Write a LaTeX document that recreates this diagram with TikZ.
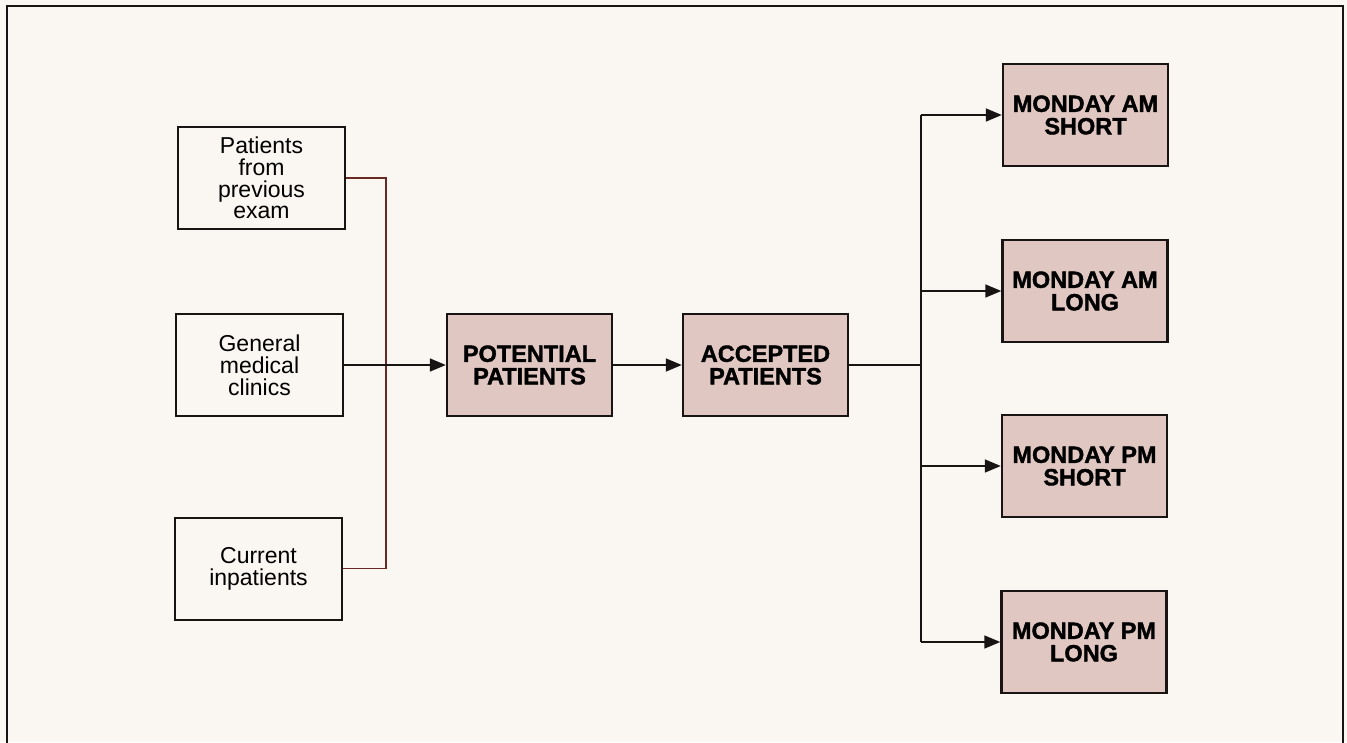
\documentclass[tikz,border=0pt]{standalone}
\usepackage{fontspec}
\setmainfont{Liberation Sans}
\newfontfamily\heavyfont[FakeBold=1.6]{Liberation Sans Bold}
\usetikzlibrary{arrows.meta}
\definecolor{paper}{RGB}{250,246,241}
\definecolor{stip}{RGB}{224,199,194}
\definecolor{brownline}{RGB}{105,40,35}
\definecolor{ink}{RGB}{25,20,20}
\tikzset{
  srcbox/.style={draw=ink, line width=2pt, fill=paper, minimum width=167pt, minimum height=102pt, inner sep=0pt, align=center, font=\fontsize{23}{21.8}\selectfont},
  stagebox/.style={draw=ink, line width=2.4pt, fill=stip, minimum width=165pt, minimum height=102pt, inner sep=0pt, align=center, font=\fontsize{23.5}{22.5}\heavyfont},
  feed/.style={draw=brownline, line width=1.3pt},
  conn/.style={draw=ink, line width=1.6pt},
  arr/.style={conn, -{Triangle[length=16pt,width=13pt]}},
  frame/.style={draw=ink, line width=2pt}
}
\begin{document}
\begin{tikzpicture}[x=1pt,y=-1pt]
\fill[paper] (0,0) rectangle (1347,742);
\useasboundingbox (0,0) rectangle (1347,742);
\draw[frame] (7,745) -- (7,6) -- (1343,6) -- (1343,745);

\node[srcbox] (b1) at (261.5,178) {Patients\\from\\previous\\exam};
\node[srcbox] (b2) at (259.5,365) {General\\medical\\clinics};
\node[srcbox] (b3) at (258.5,568.5) {Current\\inpatients};

\node[stagebox] (pot) at (529.5,365) {POTENTIAL\\PATIENTS};
\node[stagebox] (acc) at (765.5,365) {ACCEPTED\\PATIENTS};

\node[stagebox] (amS) at (1085.5,115) {MONDAY AM\\SHORT};
\node[stagebox] (amL) at (1085,291) {MONDAY AM\\LONG};
\node[stagebox] (pmS) at (1084.5,466) {MONDAY PM\\SHORT};
\node[stagebox] (pmL) at (1084,642) {MONDAY PM\\LONG};

\coordinate (jx) at (386,0);
\coordinate (kx) at (921,0);

\draw[feed] (b1.east) -| (jx |- b3.east) -- (b3.east);
\draw[arr] (b2.east) -- (pot.west);
\draw[arr] (pot.east) -- (acc.west);
\draw[conn] (acc.east) -- (kx |- acc.east);
\draw[conn] (kx |- amS.west) -- (kx |- pmL.west);
\draw[arr] (kx |- amS.west) -- (amS.west);
\draw[arr] (kx |- amL.west) -- (amL.west);
\draw[arr] (kx |- pmS.west) -- (pmS.west);
\draw[arr] (kx |- pmL.west) -- (pmL.west);
\end{tikzpicture}
\end{document}
